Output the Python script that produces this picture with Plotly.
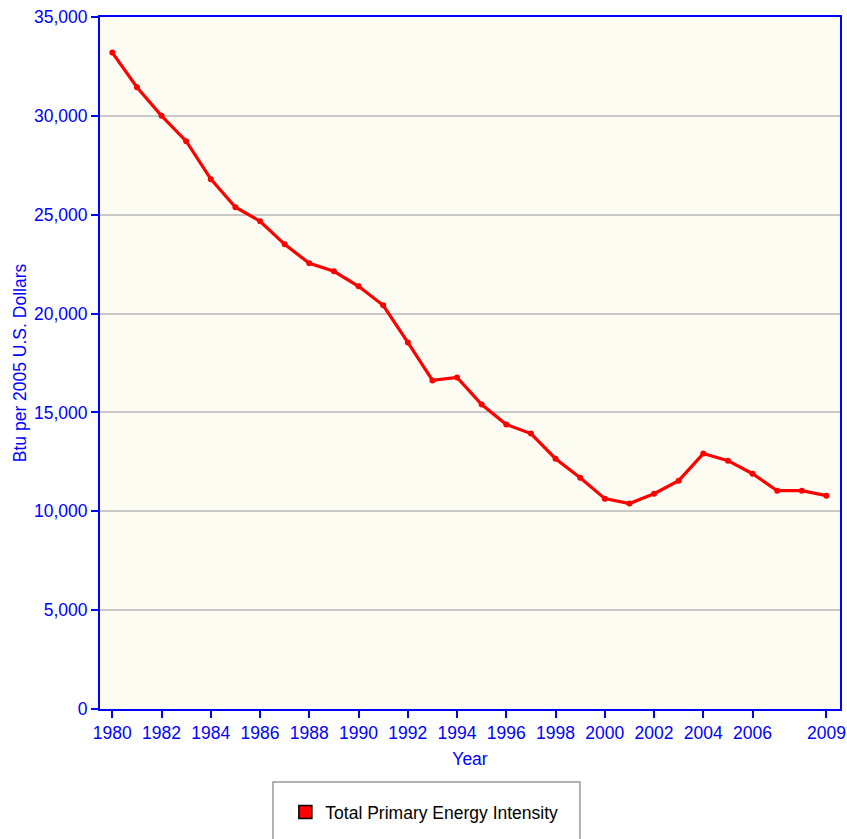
import plotly.graph_objects as go

years = list(range(1980, 2010))
intensity = [33200, 31450, 30000, 28720, 26800, 25380, 24670, 23500, 22540, 22140,
             21380, 20420, 18540, 16620, 16770, 15400, 14390, 13930, 12660, 11700,
             10640, 10390, 10890, 11550, 12920, 12560, 11900, 11040, 11040, 10790]
x_tick_vals = [1980, 1982, 1984, 1986, 1988, 1990, 1992, 1994, 1996, 1998,
               2000, 2002, 2004, 2006, 2009]
x_tick_text = [str(v) for v in x_tick_vals]
y_tick_vals = [0, 5000, 10000, 15000, 20000, 25000, 30000, 35000]
series_name = "Total Primary Energy Intensity"

FONT = "Liberation Sans"
BLUE = "#0000FF"

fig = go.Figure()
fig.add_trace(go.Scatter(
    x=years, y=intensity, mode="lines+markers",
    line=dict(color="#FF0000", width=3.2),
    marker=dict(color="#FF0000", size=6),
    showlegend=False, name=series_name,
))
# legend swatch
fig.add_trace(go.Scatter(
    x=[None], y=[None], mode="markers", name=series_name,
    marker=dict(symbol="square", color="#FF0000", size=13,
                line=dict(color="#000000", width=1.5)),
    showlegend=True,
))

fig.update_layout(
    width=847, height=839,
    margin=dict(l=100, r=7, t=17, b=130, autoexpand=False),
    paper_bgcolor="white",
    plot_bgcolor="#FCFCF3",
    font=dict(family=FONT, size=17.5, color=BLUE),
    xaxis=dict(
        range=[1979.5, 2009.55], automargin=False, ticklabeloverflow="allow",
        tickmode="array", tickvals=x_tick_vals, ticktext=x_tick_text,
        showline=True, linecolor=BLUE, linewidth=2, mirror=True,
        ticks="outside", ticklen=7, tickwidth=2, tickcolor=BLUE,
        showgrid=False, zeroline=False,
        tickfont=dict(family=FONT, size=17.5, color=BLUE),
        title=dict(text="Year", font=dict(family=FONT, size=17.5, color=BLUE), standoff=11),
    ),
    yaxis=dict(
        range=[0, 35000], automargin=False, ticklabeloverflow="allow",
        tickmode="array", tickvals=y_tick_vals, tickformat=",",
        showline=True, linecolor=BLUE, linewidth=2, mirror=True,
        ticks="outside", ticklen=7, tickwidth=2, tickcolor=BLUE,
        showgrid=True, gridcolor="#C8C8C8", gridwidth=2, zeroline=False,
        tickfont=dict(family=FONT, size=17.5, color=BLUE),
        title=dict(text="Btu per 2005 U.S. Dollars",
                   font=dict(family=FONT, size=17.5, color=BLUE), standoff=3),
    ),
    legend=dict(
        x=0.2505, y=-0.149, xanchor="left", yanchor="middle",
        bgcolor="rgba(0,0,0,0)", borderwidth=0,
        font=dict(family=FONT, size=17.5, color="#000000"),
    ),
    shapes=[dict(
        type="rect", xref="paper", yref="paper",
        x0=0.2338, x1=0.6486, y0=-0.26, y1=-0.1055,
        line=dict(color="#999999", width=1.5), fillcolor="rgba(0,0,0,0)",
        layer="above",
    )],
)

# remove the default 8px page margin so the figure fills the window exactly
fig.write_html("out.html", config={"displayModeBar": False},
               post_script="document.body.style.margin='0px';")
